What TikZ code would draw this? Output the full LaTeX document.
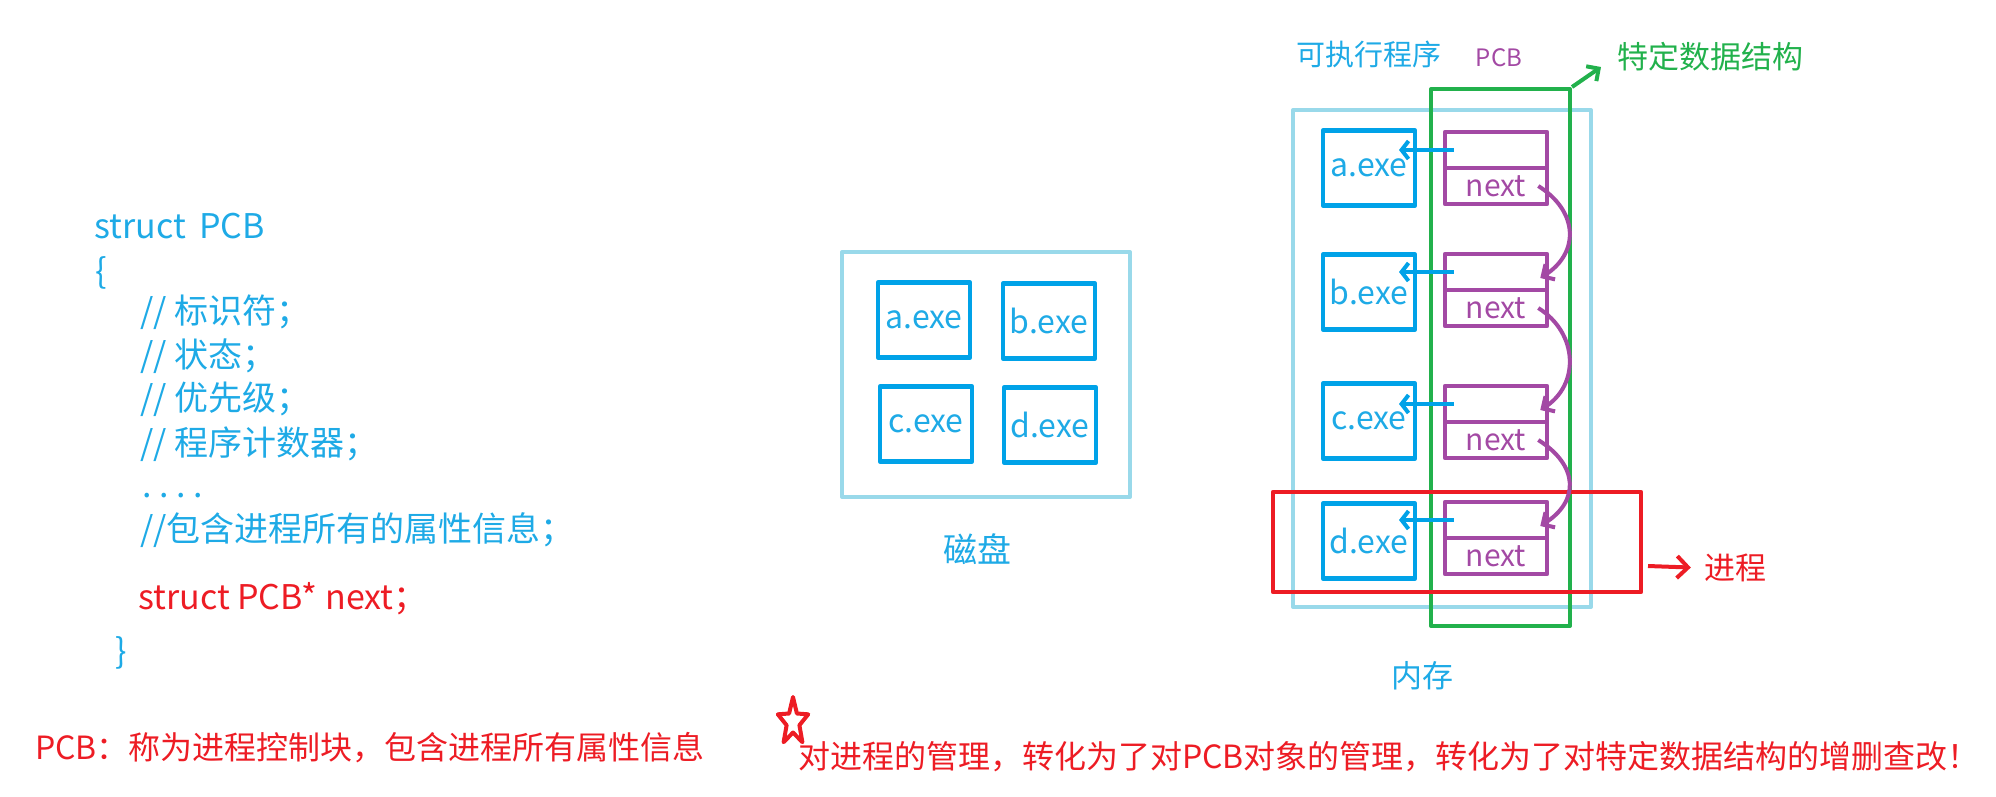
\documentclass[tikz,border=0pt]{standalone}
\usepackage{fontspec}
\setmainfont{Noto Sans CJK SC}
\usetikzlibrary{arrows.meta}

\definecolor{exeblue}{RGB}{0,162,232}
\definecolor{textblue}{RGB}{30,170,230}
\definecolor{boxcyan}{RGB}{153,217,234}
\definecolor{pcbpurple}{RGB}{163,73,164}
\definecolor{dsgreen}{RGB}{34,177,76}
\definecolor{procred}{RGB}{237,28,36}

\begin{document}
\begin{tikzpicture}[x=1pt,y=-1pt,line join=round,node distance=36pt]
\tikzstyle{code}=[anchor=west,inner sep=0pt,text=textblue,font=\fontsize{34}{40}\selectfont]
\tikzstyle{textlabel}=[inner sep=0pt,font=\fontsize{31}{37}\selectfont]
\tikzstyle{container}=[draw=boxcyan,line width=4pt,inner sep=0pt]
\tikzstyle{exe}=[draw=exeblue,line width=4.5pt,minimum width=92pt,minimum height=75pt,inner sep=0pt,text=textblue,font=\fontsize{32}{38}\selectfont]
\tikzstyle{cell}=[draw=pcbpurple,line width=4.5pt,minimum width=102pt,minimum height=36pt,inner sep=0pt,text=pcbpurple,font=\fontsize{30}{36}\selectfont]
\tikzstyle{barrow}=[draw=exeblue,line width=4pt,-{Straight Barb[length=7pt,width=18pt]}]
\tikzstyle{parrow}=[draw=pcbpurple,line width=4pt,-{Straight Barb[length=9pt,width=18pt]}]
\tikzstyle{garrow}=[draw=dsgreen,line width=4pt,-{Straight Barb[length=9pt,width=18pt]}]
\tikzstyle{rarrow}=[draw=procred,line width=4pt,-{Straight Barb[length=11pt,width=22pt]}]

\useasboundingbox (0,0) rectangle (1996,796);

% Write the PCB struct
\node[code] (s-head) at (94,226) {struct\hspace{0.4em}PCB};
\node[code] (s-open) at (95,273) {\{};
\node[code] (s-id) at (140,312) {// 标识符；};
\node[code] (s-state) at (140,356) {// 状态；};
\node[code] (s-prio) at (140,399) {// 优先级；};
\node[code] (s-pc) at (140,444) {// 程序计数器；};
\node[code,anchor=base west] (s-dots) at (142,497) {.\ .\ .\ .};
\node[code] (s-all) at (140,530) {//包含进程所有的属性信息；};
\node[code,text=procred] (s-next) at (138,599) {struct PCB* next；};
\node[code] (s-close) at (115,653) {\}};

% Disk with the programs
\node[container,minimum width=288pt,minimum height=245pt] (disk) at (986,374.5) {};
\foreach \name/\x/\y in {a/924/320, b/1049/321, c/926/424, d/1050/425}
\node[exe] (D-\name) at (\x,\y) {\name.exe};
\node[textlabel,text=textblue,font=\fontsize{34}{40}\selectfont] (disklabel) at (977,549) {磁盘};

% Memory, data structure and process frames
\node[container,minimum width=298pt,minimum height=497pt] (mem) at (1442,358.5) {};
\node[draw=dsgreen,line width=4pt,inner sep=0pt,minimum width=139pt,minimum height=537pt] (ds) at (1500.5,357.5) {};
\node[draw=procred,line width=4.5pt,inner sep=0pt,minimum width=368pt,minimum height=100pt] (proc) at (1457,542) {};

% Draw the programs loaded in memory
\foreach \name/\i/\y in {a/1/168, b/2/292, c/3/421, d/4/541}
\node[exe] (E-\i) at (1369,\y) {\name.exe};

% Draw the PCB nodes
\foreach \i/\y in {1/150, 2/272, 3/404, 4/520}{
\node[cell] (T-\i) at (1496,\y) {};
\node[cell,below of=T-\i] (N-\i) {next};
}

% Each PCB points to its program
\foreach \i in {1,...,4}
\draw[barrow,shorten >=30pt] ([xshift=11pt]T-\i.west) -- (T-\i.west -| E-\i.center);

% Link the PCBs by next
\foreach \i/\j in {1/2, 2/3, 3/4}
\draw[parrow] ([xshift=-11pt]N-\i.east) .. controls +(40pt,-25pt) and +(40pt,25pt) .. ([xshift=-9pt,yshift=-6pt]T-\j.east);

% Annotate
\node[textlabel,text=textblue,font=\fontsize{29}{35}\selectfont] (exelabel) at (1369,54) {可执行程序};
\node[textlabel,text=pcbpurple,font=\fontsize{24}{28}\selectfont] (pcblabel) at (1499,58) {PCB};
\node[textlabel,text=dsgreen] (dslabel) at (1710,57) {特定数据结构};
\node[textlabel,text=textblue] (memlabel) at (1422,676) {内存};
\node[textlabel,text=procred] (proclabel) at (1735,568) {进程};

\coordinate (dstip) at (1601,67);
\draw[garrow] (ds.north east) -- (dstip);
\coordinate (procfrom) at (1648,566);
\draw[rarrow,shorten >=13pt] (procfrom) -- (proclabel.west);

% Notes at the bottom
\node[textlabel,text=procred,font=\fontsize{32}{38}\selectfont,anchor=west] (pcbnote) at (35,748) {PCB：称为进程控制块，包含进程所有属性信息};
\draw[procred,line width=4pt] (793,697) -- (796.9,713.5) -- (808.2,714.3) -- (799.4,725.2) -- (802.4,742.2)
  -- (793,732.5) -- (783.6,742.2) -- (786.6,725.2) -- (777.8,714.3) -- (789.1,713.5) -- cycle;
\node[textlabel,text=procred,font=\fontsize{32}{38}\selectfont,anchor=west] (summary) at (798,757) {对进程的管理，转化为了对PCB对象的管理，转化为了对特定数据结构的增删查改！};

\end{tikzpicture}
\end{document}
